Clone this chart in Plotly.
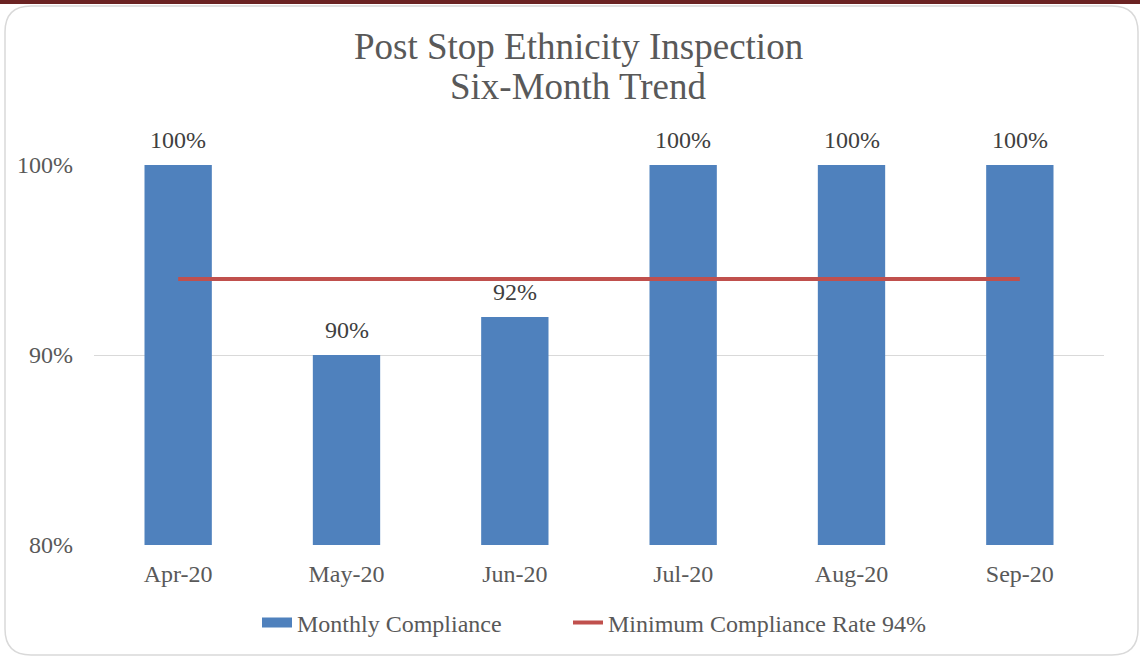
import plotly.graph_objects as go

months = ["Apr-20", "May-20", "Jun-20", "Jul-20", "Aug-20", "Sep-20"]
compliance = [1.00, 0.90, 0.92, 1.00, 1.00, 1.00]
minimum_rate = [0.94, 0.94, 0.94, 0.94, 0.94, 0.94]
title_lines = ["Post Stop Ethnicity Inspection", "Six-Month Trend"]

FONT = "Liberation Serif, Times New Roman, serif"
W, H = 1140, 658
L, R, T, B = 94, 36, 165, 113
PW, PH = W - L - R, H - T - B

def px2x(px):
    return (px - L) / PW

def px2y(py):
    return (H - B - py) / PH

fig = go.Figure()
fig.add_trace(go.Bar(
    x=months, y=compliance, name="Monthly Compliance",
    marker=dict(color="#4f81bd", line=dict(width=0)),
    width=0.4, hoverinfo="skip", showlegend=False,
))
# legend entry for the bars (wide swatch like the original)
fig.add_trace(go.Scatter(
    x=[None], y=[None], name="Monthly Compliance", mode="lines",
    line=dict(color="#4f81bd", width=12), hoverinfo="skip", legend="legend",
))
fig.add_trace(go.Scatter(
    x=months, y=minimum_rate, name="Minimum Compliance Rate 94%",
    mode="lines", line=dict(color="#c0504d", width=4), hoverinfo="skip",
    legend="legend2",
))

for m, v in zip(months, compliance):
    fig.add_annotation(x=m, y=v, text=f"{v:.0%}", showarrow=False,
                       yanchor="bottom", yshift=10,
                       font=dict(family=FONT, size=24, color="#404040"))

for text, cy in zip(title_lines, [46.5, 86.5]):
    fig.add_annotation(x=px2x(578), y=px2y(cy), xref="paper", yref="paper",
                       text=text, showarrow=False, xanchor="center", yanchor="middle",
                       font=dict(family=FONT, size=37, color="#595959"))

# rounded border
x0, x1, y0, y1, r = 5, 1138, 6, 655, 26
def P(px, py):
    return f"{px2x(px)},{px2y(py)}"
path = (f"M {P(x0 + r, y0)} L {P(x1 - r, y0)} Q {P(x1, y0)} {P(x1, y0 + r)} "
        f"L {P(x1, y1 - r)} Q {P(x1, y1)} {P(x1 - r, y1)} "
        f"L {P(x0 + r, y1)} Q {P(x0, y1)} {P(x0, y1 - r)} "
        f"L {P(x0, y0 + r)} Q {P(x0, y0)} {P(x0 + r, y0)} Z")
fig.add_shape(type="path", path=path, xref="paper", yref="paper",
              line=dict(color="#d9d9d9", width=1.5), layer="below")
fig.add_shape(type="rect", xref="paper", yref="paper",
              x0=px2x(0), x1=px2x(W), y0=px2y(0), y1=px2y(4),
              fillcolor="#6b2323", line=dict(width=0))

legend_font = dict(family=FONT, size=24, color="#595959")
fig.update_layout(
    width=W, height=H,
    margin=dict(l=L, r=R, t=T, b=B),
    paper_bgcolor="white", plot_bgcolor="white",
    font=dict(family=FONT, size=24, color="#595959"),
    showlegend=True,
    legend=dict(orientation="h", x=px2x(257), xanchor="left",
                y=px2y(623), yanchor="middle", font=legend_font),
    legend2=dict(orientation="h", x=px2x(568), xanchor="left",
                 y=px2y(623), yanchor="middle", font=legend_font),
)
fig.update_xaxes(showgrid=False, showline=False, ticks="",
                 tickfont=dict(family=FONT, size=24, color="#595959"),
                 ticklabelstandoff=12)
fig.update_yaxes(range=[0.8, 1.0], dtick=0.1, tickformat=".0%",
                 showgrid=True, gridcolor="#d9d9d9", gridwidth=1,
                 zeroline=False, showline=False, ticks="",
                 tickfont=dict(family=FONT, size=24, color="#595959"),
                 ticklabelstandoff=20)

fig.write_html("out.html", config={"displayModeBar": False},
               post_script="document.body.style.margin='0';document.body.style.overflow='hidden';")
